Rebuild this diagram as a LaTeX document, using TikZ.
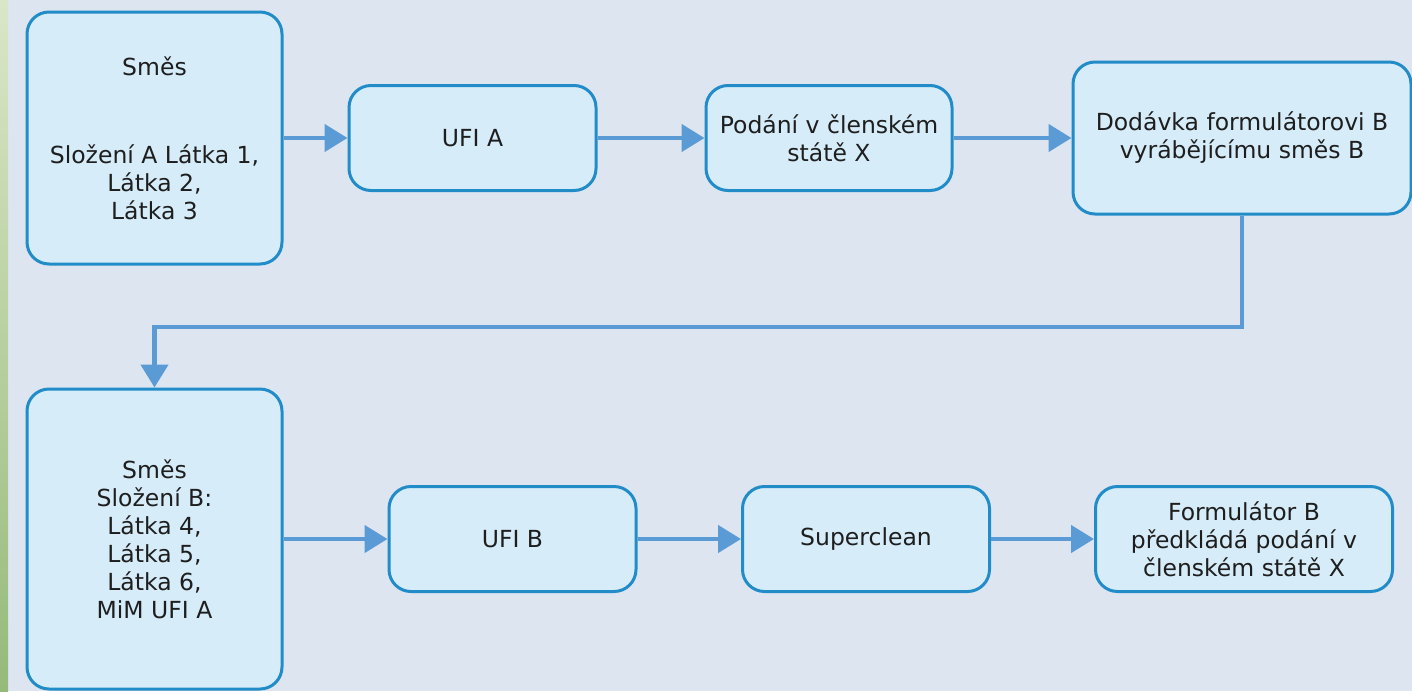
\documentclass[tikz,border=0pt]{standalone}
\usepackage{fontspec}
\setmainfont{DejaVu Sans}
\usetikzlibrary{arrows.meta}
\definecolor{bgblue}{RGB}{220,229,240}
\definecolor{boxfill}{RGB}{214,236,249}
\definecolor{boxline}{RGB}{34,140,200}
\definecolor{arrowblue}{RGB}{91,155,213}
\definecolor{textdark}{RGB}{30,30,30}
\definecolor{stripTop}{RGB}{218,230,200}
\definecolor{stripBot}{RGB}{150,186,122}
\begin{document}
\begin{tikzpicture}[x=1pt, y=-1pt, >={Triangle[length=23pt,width=27pt]},
  box/.style={draw=boxline, line width=3pt, fill=boxfill, rounded corners=22pt,
    align=center, text=textdark, font=\fontsize{23.5}{28}\selectfont},
  link/.style={->, draw=arrowblue, line width=4.5pt}]

\useasboundingbox (0,0) rectangle (1412,691);
\fill[bgblue] (0,0) rectangle (1412,691);
\shade[top color=stripTop, bottom color=stripBot] (0,0) rectangle (8,691);

% first row
\node[box, minimum width=255pt, minimum height=252pt] (mixA) at (154.5,138)
  {Směs\\[60pt]Složení A Látka 1,\\Látka 2,\\Látka 3};
\node[box, minimum width=247pt, minimum height=105pt] (ufiA) at (472.5,138) {UFI A};
\node[box, minimum width=246pt, minimum height=105pt] (podani) at (829,138)
  {Podání v členském\\státě X};
\node[box, minimum width=338pt, minimum height=152pt] (dodavka) at (1242,138)
  {Dodávka formulátorovi B\\vyrábějícímu směs B};

% second row
\node[box, minimum width=255pt, minimum height=300pt] (mixB) at (154.5,539)
  {Směs\\Složení B:\\Látka 4,\\Látka 5,\\Látka 6,\\MiM UFI A};
\node[box, minimum width=247pt, minimum height=105pt] (ufiB) at (512.5,539) {UFI B};
\node[box, minimum width=247pt, minimum height=105pt] (clean) at (866,539) {Superclean};
\node[box, minimum width=297pt, minimum height=105pt] (formB) at (1244,539)
  {Formulátor B\\předkládá podání v\\členském státě X};

\coordinate (turn) at (0,327);

\draw[link] (mixA.east) -- (ufiA.west);
\draw[link] (ufiA.east) -- (podani.west);
\draw[link] (podani.east) -- (dodavka.west);
\draw[link] (dodavka.south) -- (dodavka.south |- turn) -| (mixB.north);
\draw[link] (mixB.east) -- (ufiB.west);
\draw[link] (ufiB.east) -- (clean.west);
\draw[link] (clean.east) -- (formB.west);
\end{tikzpicture}
\end{document}
